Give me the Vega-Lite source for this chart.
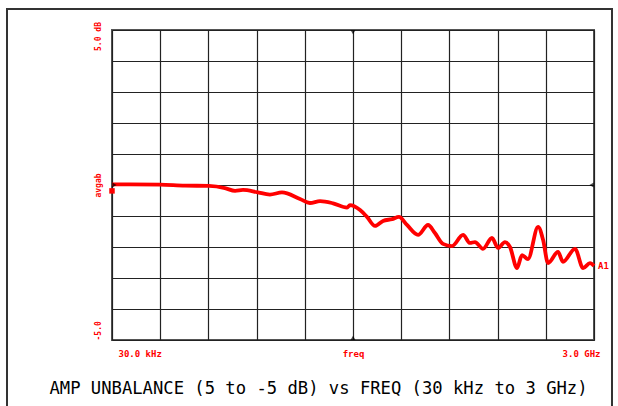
{
  "$schema": "https://vega.github.io/schema/vega-lite/v6.json",
  "autosize": {"type": "none"},
  "padding": {"left": 112, "top": 30, "right": 24, "bottom": 66},
  "width": 482,
  "height": 310,
  "background": "white",
  "config": {
    "view": {"stroke": "#555555", "strokeWidth": 2},
    "axis": {
      "domain": false,
      "ticks": false,
      "grid": true,
      "gridColor": "#222222",
      "gridWidth": 1.2,
      "gridOpacity": 1,
      "labelColor": "#ff0000",
      "labelFont": "DejaVu Sans Mono",
      "labelFontWeight": "bold",
      "labelFontSize": 9
    }
  },
  "datasets": {
    "trace": [
      {"freq": 0.03, "dB": 0.02},
      {"freq": 112, "dB": 0.02},
      {"freq": 299, "dB": 0.01},
      {"freq": 454, "dB": -0.02},
      {"freq": 604, "dB": -0.03},
      {"freq": 703, "dB": -0.10},
      {"freq": 766, "dB": -0.19},
      {"freq": 815, "dB": -0.16},
      {"freq": 902, "dB": -0.23},
      {"freq": 983, "dB": -0.31},
      {"freq": 1058, "dB": -0.24},
      {"freq": 1170, "dB": -0.45},
      {"freq": 1232, "dB": -0.58},
      {"freq": 1295, "dB": -0.52},
      {"freq": 1376, "dB": -0.59},
      {"freq": 1463, "dB": -0.73},
      {"freq": 1481, "dB": -0.65},
      {"freq": 1544, "dB": -0.81},
      {"freq": 1587, "dB": -1.03},
      {"freq": 1637, "dB": -1.32},
      {"freq": 1687, "dB": -1.16},
      {"freq": 1743, "dB": -1.10},
      {"freq": 1786, "dB": -1.03},
      {"freq": 1836, "dB": -1.29},
      {"freq": 1905, "dB": -1.61},
      {"freq": 1967, "dB": -1.29},
      {"freq": 2010, "dB": -1.55},
      {"freq": 2060, "dB": -1.90},
      {"freq": 2116, "dB": -1.97},
      {"freq": 2185, "dB": -1.61},
      {"freq": 2228, "dB": -1.87},
      {"freq": 2259, "dB": -1.84},
      {"freq": 2309, "dB": -2.06},
      {"freq": 2365, "dB": -1.71},
      {"freq": 2403, "dB": -2.03},
      {"freq": 2446, "dB": -1.84},
      {"freq": 2477, "dB": -2.00},
      {"freq": 2521, "dB": -2.68},
      {"freq": 2552, "dB": -2.26},
      {"freq": 2589, "dB": -2.39},
      {"freq": 2652, "dB": -1.35},
      {"freq": 2683, "dB": -1.77},
      {"freq": 2714, "dB": -2.52},
      {"freq": 2776, "dB": -2.16},
      {"freq": 2807, "dB": -2.48},
      {"freq": 2882, "dB": -2.06},
      {"freq": 2932, "dB": -2.68},
      {"freq": 2975, "dB": -2.52},
      {"freq": 3000, "dB": -2.61}
    ],
    "marker": [{"freq": 3000, "dB": -2.61, "label": "A1"}],
    "one": [{"n": 1}]
  },
  "layer": [
    {
      "data": {"name": "one"},
      "mark": {"type": "rect", "filled": false, "color": "#333333", "strokeWidth": 2, "clip": false},
      "encoding": {
        "x": {"datum": -653.5, "type": "quantitative", "scale": {"domain": [0.03, 3000], "nice": false, "zero": false}},
        "x2": {"datum": 3112},
        "y": {"datum": 5.677, "type": "quantitative", "scale": {"domain": [-5, 5], "nice": false, "zero": false}},
        "y2": {"datum": -8}
      }
    },
    {
      "data": {"name": "trace"},
      "mark": {"type": "line", "color": "#ff0000", "strokeWidth": 3.8, "interpolate": "monotone"},
      "encoding": {
        "x": {
          "field": "freq", "type": "quantitative",
          "scale": {"domain": [0.03, 3000], "nice": false, "zero": false},
          "title": "AMP UNBALANCE (5 to -5 dB) vs FREQ (30 kHz to 3 GHz)",
          "axis": {
            "values": [0.03, 300.027, 600.024, 900.021, 1200.018, 1500.015, 1800.012, 2100.009, 2400.006, 2700.003, 3000],
            "tickCount": 30,
            "labelExpr": "datum.value < 1 ? '30.0  kHz' : (abs(datum.value - 1500.015) < 1 ? 'freq' : (datum.value > 2999 ? '3.0  GHz' : ''))",
            "labelPadding": 9,
            "labelAlign": {"condition": [{"test": "datum.value < 1", "value": "left"}, {"test": "datum.value > 2999", "value": "right"}], "value": "center"},
            "labelOffset": {"condition": {"test": "datum.value < 1 || datum.value > 2999", "value": 6}, "value": 0},
            "labelFlush": false,
            "labelOverlap": false,
            "titleFont": "DejaVu Sans Mono",
            "titleFontSize": 17.2,
            "titleFontWeight": "normal",
            "titleColor": "#000000",
            "titleX": 206,
            "titleY": 39,
            "titleAlign": "center",
            "titleBaseline": "top"
          }
        },
        "y": {
          "field": "dB", "type": "quantitative",
          "scale": {"domain": [-5, 5], "nice": false, "zero": false},
          "title": null,
          "axis": {
            "values": [-5, -4, -3, -2, -1, 0, 1, 2, 3, 4, 5],
            "tickCount": 30,
            "labelExpr": "datum.value == 5 ? '5.0 dB' : (datum.value == 0 ? 'avgab' : (datum.value == -5 ? '-5.0' : ''))",
            "labelAngle": 270,
            "labelPadding": 10,
            "labelFontSize": 8,
            "labelAlign": {"condition": {"test": "datum.value == -5", "value": "left"}, "value": "center"},
            "labelOffset": {"condition": {"test": "datum.value == 5", "value": 6}, "value": 0},
            "labelFlush": false,
            "labelOverlap": false
          }
        }
      }
    },
    {
      "data": {"name": "marker"},
      "mark": {"type": "text", "color": "#ff0000", "align": "left", "dx": 4, "font": "DejaVu Sans Mono", "fontWeight": "bold", "fontSize": 9},
      "encoding": {
        "x": {"field": "freq", "type": "quantitative", "scale": {"domain": [0.03, 3000], "nice": false, "zero": false}},
        "y": {"field": "dB", "type": "quantitative", "scale": {"domain": [-5, 5], "nice": false, "zero": false}},
        "text": {"field": "label"}
      }
    },
    {
      "data": {"name": "one"},
      "mark": {"type": "point", "shape": "square", "filled": true, "color": "#ff0000", "size": 30, "opacity": 1, "clip": false},
      "encoding": {
        "x": {"datum": 0.03, "type": "quantitative", "scale": {"domain": [0.03, 3000], "nice": false, "zero": false}},
        "y": {"datum": -0.19, "type": "quantitative", "scale": {"domain": [-5, 5], "nice": false, "zero": false}}
      }
    },
    {
      "data": {"name": "one"},
      "mark": {"type": "point", "shape": "triangle-down", "filled": true, "color": "#000000", "size": 25, "clip": false},
      "encoding": {
        "x": {"datum": 1500, "type": "quantitative", "scale": {"domain": [0.03, 3000], "nice": false, "zero": false}},
        "y": {"datum": 4.93, "type": "quantitative", "scale": {"domain": [-5, 5], "nice": false, "zero": false}}
      }
    },
    {
      "data": {"name": "one"},
      "mark": {"type": "point", "shape": "triangle-up", "filled": true, "color": "#000000", "size": 25, "clip": false},
      "encoding": {
        "x": {"datum": 1500, "type": "quantitative", "scale": {"domain": [0.03, 3000], "nice": false, "zero": false}},
        "y": {"datum": -4.93, "type": "quantitative", "scale": {"domain": [-5, 5], "nice": false, "zero": false}}
      }
    },
    {
      "data": {"name": "one"},
      "mark": {"type": "point", "shape": "triangle-right", "filled": true, "color": "#000000", "size": 25, "clip": false},
      "encoding": {
        "x": {"datum": 15, "type": "quantitative", "scale": {"domain": [0.03, 3000], "nice": false, "zero": false}},
        "y": {"datum": 0, "type": "quantitative", "scale": {"domain": [-5, 5], "nice": false, "zero": false}}
      }
    },
    {
      "data": {"name": "one"},
      "mark": {"type": "point", "shape": "triangle-left", "filled": true, "color": "#000000", "size": 25, "clip": false},
      "encoding": {
        "x": {"datum": 2985, "type": "quantitative", "scale": {"domain": [0.03, 3000], "nice": false, "zero": false}},
        "y": {"datum": 0, "type": "quantitative", "scale": {"domain": [-5, 5], "nice": false, "zero": false}}
      }
    }
  ]
}
